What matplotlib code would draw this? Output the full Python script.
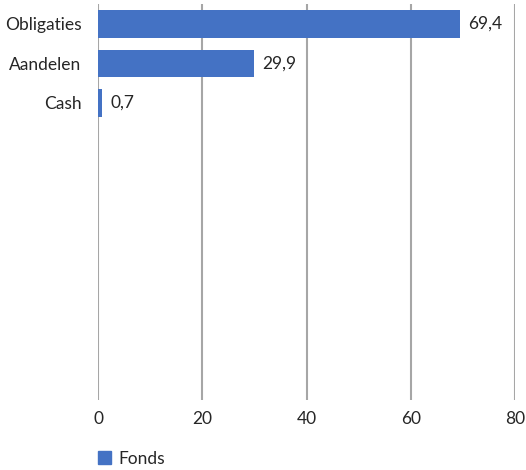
import matplotlib
matplotlib.use("Agg")
import matplotlib.pyplot as plt
from matplotlib.patches import Patch

categories = ["Obligaties", "Aandelen", "Cash"]
values = [69.4, 29.9, 0.7]
x_ticks = [0, 20, 40, 60, 80]
series_name = "Fonds"
n_slots = 10

plt.rcParams['font.family'] = ['Lato', 'DejaVu Sans']
text_color = "#262626"
bar_color = "#4472C4"
grid_color = "#A6A6A6"
fs = 12.5

fig = plt.figure(figsize=(5.26, 4.70), dpi=100)
ax = fig.add_axes([98/526, 1-400/470, (515-98)/526, (400-4)/470])

pos = list(range(len(categories)))
bars = ax.barh(pos, values, height=0.7, color=bar_color, zorder=3)
for p, v in zip(pos, values):
    ax.text(v + 1.7, p, f"{v:.1f}".replace(".", ","), va="center", ha="left",
            fontsize=fs, color=text_color)

ax.set_ylim(n_slots - 0.5, -0.5)
ax.set_xlim(x_ticks[0], x_ticks[-1])
ax.set_yticks(pos)
ax.set_yticklabels(categories, fontsize=fs, color=text_color)
ax.set_xticks(x_ticks)
ax.set_xticklabels([str(t) for t in x_ticks], fontsize=fs, color=text_color)
ax.tick_params(axis="both", length=0)
ax.tick_params(axis="y", pad=12)
ax.tick_params(axis="x", pad=8)
for s in ax.spines.values():
    s.set_visible(False)
ax.grid(axis="x", color=grid_color, linewidth=1.5, zorder=0)
ax.set_facecolor("none")

leg = fig.legend(handles=[Patch(color=bar_color, label=series_name)],
                 loc="center left", bbox_to_anchor=(82/526, 1-458.5/470),
                 frameon=False, fontsize=fs, handlelength=0.75, handleheight=0.75,
                 handletextpad=0.45, labelcolor=text_color)

fig.savefig("out.png", dpi=100)
